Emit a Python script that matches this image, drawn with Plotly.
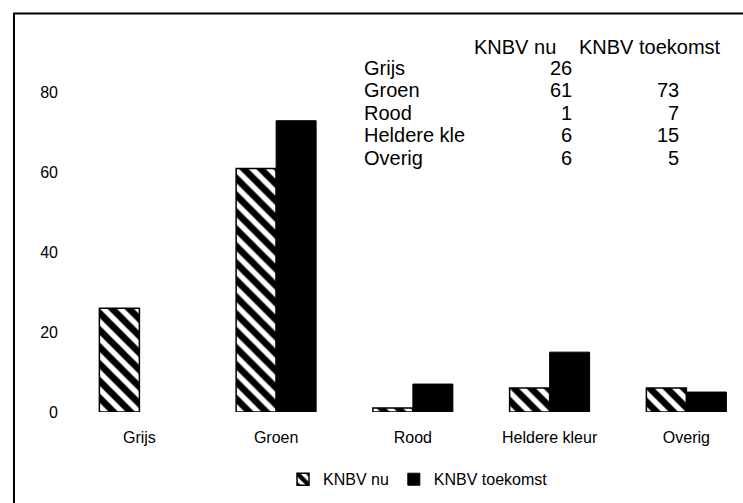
import plotly.graph_objects as go

# ---- data ----
categories = ["Grijs", "Groen", "Rood", "Heldere kleur", "Overig"]
table_labels = ["Grijs", "Groen", "Rood", "Heldere kle", "Overig"]
knbv_nu = [26, 61, 1, 6, 6]
knbv_toekomst = [None, 73, 7, 15, 5]
series_names = ["KNBV nu", "KNBV toekomst"]
y_ticks = [0, 20, 40, 60, 80]

# ---- layout geometry (pixels) ----
W, H = 743, 503
ML, MR, MT, MB = 71, 0, 12.5, 90.5
PW = W - ML - MR
PH = H - MT - MB


def px(x):
    return (x - ML) / PW


def py(y):
    return (H - MB - y) / PH


FONT = "Liberation Sans, Arial, sans-serif"

fig = go.Figure()
fig.add_trace(go.Bar(
    x=categories, y=knbv_nu, name=series_names[0],
    marker=dict(color="white",
                line=dict(color="black", width=1.5),
                pattern=dict(shape="\\", size=12, solidity=0.55,
                             fgcolor="black", bgcolor="white", fgopacity=1)),
))
fig.add_trace(go.Bar(
    x=categories, y=knbv_toekomst, name=series_names[1],
    marker=dict(color="black", line=dict(color="black", width=1)),
))

# data table overlay
ann = []
header_y = 47
row_y = [68, 90, 112.5, 135, 157.5]
ann.append(dict(x=px(472), y=py(header_y), text=series_names[0], xanchor="left"))
ann.append(dict(x=px(577), y=py(header_y), text=series_names[1], xanchor="left"))
for i, lab in enumerate(table_labels):
    ann.append(dict(x=px(362), y=py(row_y[i]), text=lab, xanchor="left"))
    if knbv_nu[i] is not None:
        ann.append(dict(x=px(574), y=py(row_y[i]), text=str(knbv_nu[i]), xanchor="right"))
    if knbv_toekomst[i] is not None:
        ann.append(dict(x=px(681), y=py(row_y[i]), text=str(knbv_toekomst[i]), xanchor="right"))
for a in ann:
    a.update(xref="paper", yref="paper", yanchor="middle", showarrow=False,
             font=dict(family=FONT, size=20, color="black"))

fig.update_layout(
    width=W, height=H, autosize=False,
    margin=dict(l=ML, r=MR, t=MT, b=MB, autoexpand=False),
    paper_bgcolor="white", plot_bgcolor="white",
    barmode="group", bargap=0.415, bargroupgap=0,
    font=dict(family=FONT, size=16, color="black"),
    showlegend=True,
    legend=dict(orientation="h", x=px(418), xanchor="center",
                y=py(480), yanchor="middle", font=dict(size=16),
                itemwidth=30, traceorder="normal", bgcolor="rgba(0,0,0,0)"),
    annotations=ann,
    shapes=[dict(type="rect", xref="paper", yref="paper",
                 x0=px(14), x1=px(770), y0=py(13), y1=py(530),
                 line=dict(color="black", width=2), fillcolor="rgba(0,0,0,0)",
                 layer="below")],
)
fig.update_xaxes(range=[-0.5, (W - ML) / 136.75 - 0.5], showgrid=False,
                 zeroline=False, showline=False, ticks="",
                 ticklabelstandoff=14, tickfont=dict(size=16))
fig.update_yaxes(range=[0, 100], tickvals=y_ticks, showgrid=False,
                 zeroline=False, showline=False, ticks="",
                 ticklabelstandoff=12, tickfont=dict(size=16))

fig.write_html("out.html", config={"displayModeBar": False},
               post_script="document.body.style.margin='0';document.body.style.overflow='hidden';")
